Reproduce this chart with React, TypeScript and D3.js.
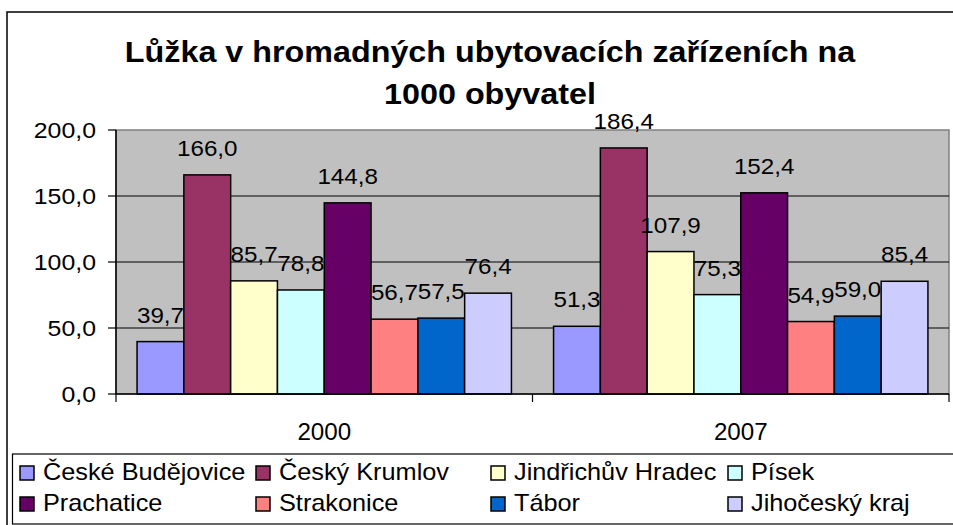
import React from "react";
import * as d3 from "d3";

const years = ["2000", "2007"];
const seriesNames = [
  "České Budějovice",
  "Český Krumlov",
  "Jindřichův Hradec",
  "Písek",
  "Prachatice",
  "Strakonice",
  "Tábor",
  "Jihočeský kraj",
];
const values2000 = [39.7, 166.0, 85.7, 78.8, 144.8, 56.7, 57.5, 76.4];
const values2007 = [51.3, 186.4, 107.9, 75.3, 152.4, 54.9, 59.0, 85.4];
const seriesColors = [
  "#9999FF",
  "#993366",
  "#FFFFCC",
  "#CCFFFF",
  "#660066",
  "#FF8080",
  "#0066CC",
  "#CCCCFF",
];
const yTicks = [0, 50, 100, 150, 200];
const titleLines = ["Lůžka v hromadných ubytovacích zařízeních na", "1000 obyvatel"];

const W = 953;
const H = 525;
const FONT = "'Liberation Sans', Arial, sans-serif";

const plot = { left: 116, right: 949, top: 130, bottom: 394 };

const fmt = (v: number) => v.toFixed(1).replace(".", ",");

export default function App() {
  const y = d3.scaleLinear().domain([0, 200]).range([plot.bottom, plot.top]);
  const x0 = d3.scaleBand<string>().domain(years).range([plot.left, plot.right]).padding(0);
  const x1 = d3
    .scaleBand<string>()
    .domain(seriesNames)
    .range([0, x0.bandwidth()])
    .paddingInner(0)
    .paddingOuter(0.45);

  const data = years.map((yr, i) => ({
    year: yr,
    values: i === 0 ? values2000 : values2007,
  }));

  const legendCols = [20, 256, 491, 728];
  const legendRows = [466, 497];

  const stretchText = (
    key: string,
    tx: number,
    ty: number,
    txt: string,
    size: number,
    sx: number,
    anchor: "start" | "middle" | "end",
    bold = false
  ) => (
    <text
      key={key}
      transform={`translate(${tx},${ty}) scale(${sx},1)`}
      fontSize={size}
      fontFamily={FONT}
      fontWeight={bold ? "bold" : "normal"}
      textAnchor={anchor}
      fill="#000"
    >
      {txt}
    </text>
  );

  return (
    <svg
      width={W}
      height={H}
      style={{ position: "absolute", left: 0, top: 0, background: "#fff" }}
    >
      {/* outer frame */}
      <rect x={7} y={12} width={W + 10} height={H + 10} fill="#fff" stroke="#000" strokeWidth={1.5} />

      {/* title */}
      {titleLines.map((t, i) => stretchText("t" + i, 490, 62 + i * 42, t, 30, 1.077, "middle", true))}

      {/* plot area */}
      <rect
        x={plot.left}
        y={plot.top}
        width={plot.right - plot.left}
        height={plot.bottom - plot.top}
        fill="#C0C0C0"
        stroke="#808080"
        strokeWidth={1.5}
      />
      {/* gridlines */}
      {yTicks
        .filter((t) => t > 0 && t < 200)
        .map((t) => (
          <line key={"g" + t} x1={plot.left} x2={plot.right} y1={y(t)} y2={y(t)} stroke="#000" strokeWidth={1.2} />
        ))}

      {/* bars */}
      {data.map((d) =>
        d.values.map((v, i) => {
          const bx = (x0(d.year) as number) + (x1(seriesNames[i]) as number);
          return (
            <rect
              key={d.year + i}
              x={bx}
              y={y(v)}
              width={x1.bandwidth()}
              height={y(0) - y(v)}
              fill={seriesColors[i]}
              stroke="#000"
              strokeWidth={1.5}
            />
          );
        })
      )}

      {/* data labels */}
      {data.map((d) =>
        d.values.map((v, i) => {
          const cx = (x0(d.year) as number) + (x1(seriesNames[i]) as number) + x1.bandwidth() / 2;
          return stretchText("l" + d.year + i, cx, y(v) - 19, fmt(v), 22, 1.1, "middle");
        })
      )}

      {/* y axis */}
      <line x1={plot.left} x2={plot.left} y1={plot.top} y2={plot.bottom} stroke="#000" strokeWidth={1.5} />
      {yTicks.map((t) => (
        <g key={"yt" + t}>
          <line x1={plot.left - 8} x2={plot.left} y1={y(t)} y2={y(t)} stroke="#000" strokeWidth={1.2} />
          {stretchText("ytl" + t, 96, y(t) + 8, fmt(t), 22, 1.13, "end")}
        </g>
      ))}

      {/* x axis */}
      <line x1={plot.left} x2={plot.right} y1={plot.bottom} y2={plot.bottom} stroke="#000" strokeWidth={1.5} />
      {[...years.map((yr) => x0(yr) as number), plot.right].map((xv, i) => (
        <line key={"xt" + i} x1={xv} x2={xv} y1={plot.bottom} y2={plot.bottom + 8} stroke="#000" strokeWidth={1.2} />
      ))}
      {years.map((yr) =>
        stretchText("xl" + yr, (x0(yr) as number) + x0.bandwidth() / 2, 440, yr, 23, 1.05, "middle")
      )}

      {/* legend */}
      <rect x={12.5} y={454} width={W} height={70} fill="#fff" stroke="#000" strokeWidth={1.2} />
      {seriesNames.map((s, i) => {
        const col = i % 4;
        const row = Math.floor(i / 4);
        const lx = legendCols[col];
        const ly = legendRows[row];
        return (
          <g key={"lg" + i}>
            <rect x={lx} y={ly} width={14} height={14} fill={seriesColors[i]} stroke="#000" strokeWidth={1.5} />
            {stretchText("lt" + i, lx + 23, ly + 14, s, 23, 1.1, "start")}
          </g>
        );
      })}
    </svg>
  );
}
